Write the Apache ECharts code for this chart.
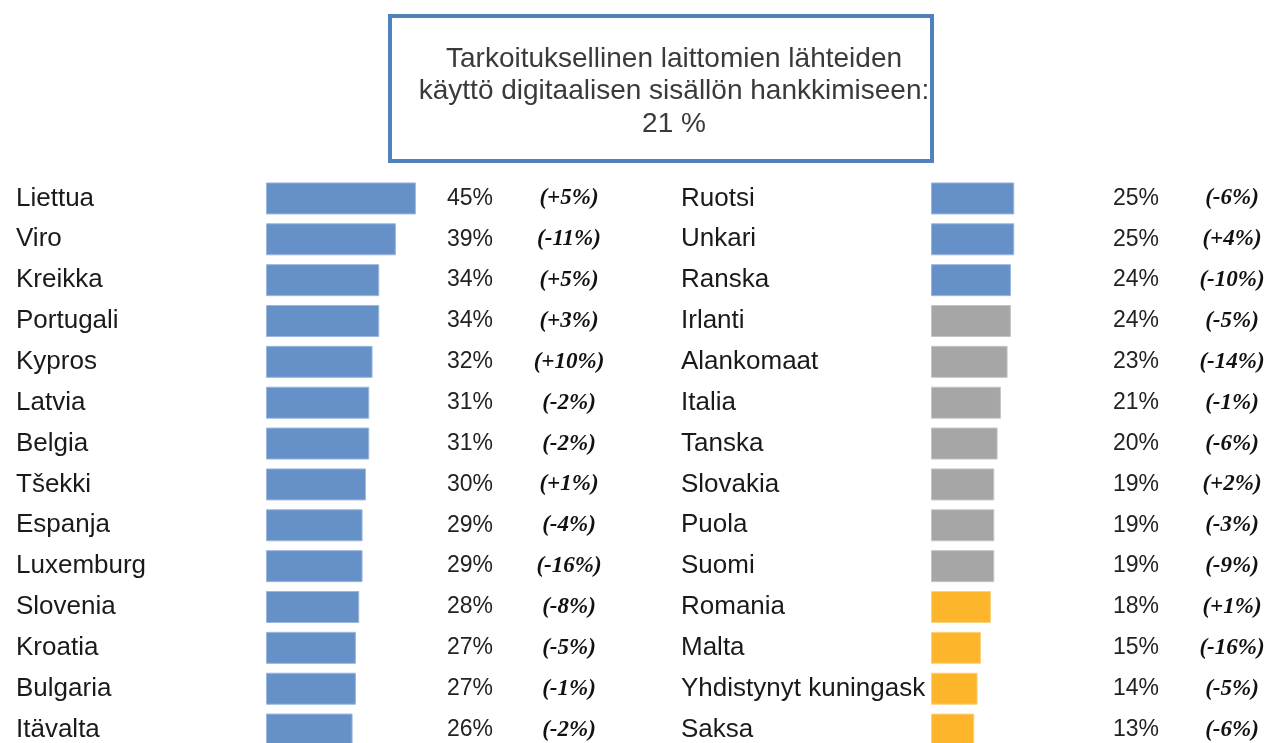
<!DOCTYPE html>
<html>
<head>
<meta charset="utf-8">
<script src="https://cdn.jsdelivr.net/npm/echarts@6/dist/echarts.min.js"></script>
<style>
  html, body { margin: 0; padding: 0; background: #fff; }
  #chart { width: 1269px; height: 743px; }
</style>
</head>
<body>
<div id="chart"></div>
<script>
// data
const titleText = 'Tarkoituksellinen laittomien lähteiden\nkäyttö digitaalisen sisällön hankkimiseen:\n21 %';

const leftCountries = ['Liettua', 'Viro', 'Kreikka', 'Portugali', 'Kypros', 'Latvia', 'Belgia',
  'Tšekki', 'Espanja', 'Luxemburg', 'Slovenia', 'Kroatia', 'Bulgaria', 'Itävalta'];
const leftValues = [45, 39, 34, 34, 32, 31, 31, 30, 29, 29, 28, 27, 27, 26];
const leftChanges = ['+5%', '-11%', '+5%', '+3%', '+10%', '-2%', '-2%', '+1%', '-4%', '-16%', '-8%', '-5%', '-1%', '-2%'];

const rightCountries = ['Ruotsi', 'Unkari', 'Ranska', 'Irlanti', 'Alankomaat', 'Italia', 'Tanska',
  'Slovakia', 'Puola', 'Suomi', 'Romania', 'Malta', 'Yhdistynyt kuningaskunta', 'Saksa'];
const rightValues = [25, 25, 24, 24, 23, 21, 20, 19, 19, 19, 18, 15, 14, 13];
const rightChanges = ['-6%', '+4%', '-10%', '-5%', '-14%', '-1%', '-6%', '+2%', '-3%', '-9%', '+1%', '-16%', '-5%', '-6%'];
// colour group per right-hand country: 0 above average, 1 around, 2 below
const rightGroups = [0, 0, 0, 1, 1, 1, 1, 1, 1, 1, 2, 2, 2, 2];

const groupColors = ['#6690c8', '#a6a6a6', '#fdb52b'];
const groupBorders = ['#9ab6dc', '#c4c4c4', '#fdd27f'];

const chart = echarts.init(document.getElementById('chart'));

const nameLabel = {
  interval: 0, margin: 250, align: 'left', width: 249, overflow: 'truncate', ellipsis: '',
  padding: [6, 0, 0, 0],
  fontFamily: 'Liberation Sans, Arial', fontSize: 26, color: '#1a1a1a'
};
const pctLabel = {
  interval: 0, margin: 0, align: 'left', padding: [5, 0, 0, 0],
  fontFamily: 'Liberation Sans, Arial', fontSize: 23, color: '#222'
};
const chgLabel = {
  interval: 0, margin: 0, align: 'center', padding: [7, 0, 0, 0],
  fontFamily: 'Liberation Serif, Times New Roman', fontSize: 23, fontWeight: 'bold',
  fontStyle: 'italic', color: '#111'
};

function catAxis(gridIndex, data, offset, label) {
  return {
    type: 'category', gridIndex, data, inverse: true, position: 'left', offset,
    axisLine: { show: false }, axisTick: { show: false }, splitLine: { show: false },
    axisLabel: label
  };
}

const option = {
  backgroundColor: '#fff',
  animation: false,
  title: {
    text: titleText,
    left: 669, top: 38, textAlign: 'center',
    textStyle: { fontFamily: 'Liberation Sans, Arial', fontSize: 28, fontWeight: 'normal', color: '#3a3a3a', lineHeight: 32.5 }
  },
  graphic: [{
    type: 'rect',
    shape: { x: 390, y: 16, width: 542, height: 145 },
    style: { fill: 'none', stroke: '#4f81bd', lineWidth: 4 }
  }],
  grid: [
    { left: 266, top: 178, width: 333, height: 572, containLabel: false, outerBoundsMode: 'none' },
    { left: 931, top: 178, width: 333, height: 572, containLabel: false, outerBoundsMode: 'none' }
  ],
  xAxis: [
    { type: 'value', gridIndex: 0, min: 0, max: 100, show: false },
    { type: 'value', gridIndex: 1, min: 0, max: 100, show: false }
  ],
  yAxis: [
    catAxis(0, leftCountries, 0, nameLabel),
    catAxis(0, leftValues.map(v => v + '%'), -181, pctLabel),
    catAxis(0, leftChanges.map(c => '(' + c + ')'), -303, chgLabel),
    catAxis(1, rightCountries, 0, nameLabel),
    catAxis(1, rightValues.map(v => v + '%'), -182, pctLabel),
    catAxis(1, rightChanges.map(c => '(' + c + ')'), -301, chgLabel)
  ],
  series: [
    {
      type: 'bar', xAxisIndex: 0, yAxisIndex: 0, barWidth: 32,
      itemStyle: { color: groupColors[0], borderColor: groupBorders[0], borderWidth: 1 },
      data: leftValues
    },
    {
      type: 'bar', xAxisIndex: 1, yAxisIndex: 3, barWidth: 32,
      data: rightValues.map((v, i) => ({
        value: v,
        itemStyle: { color: groupColors[rightGroups[i]], borderColor: groupBorders[rightGroups[i]], borderWidth: 1 }
      }))
    }
  ]
};

chart.setOption(option);
</script>
</body>
</html>
